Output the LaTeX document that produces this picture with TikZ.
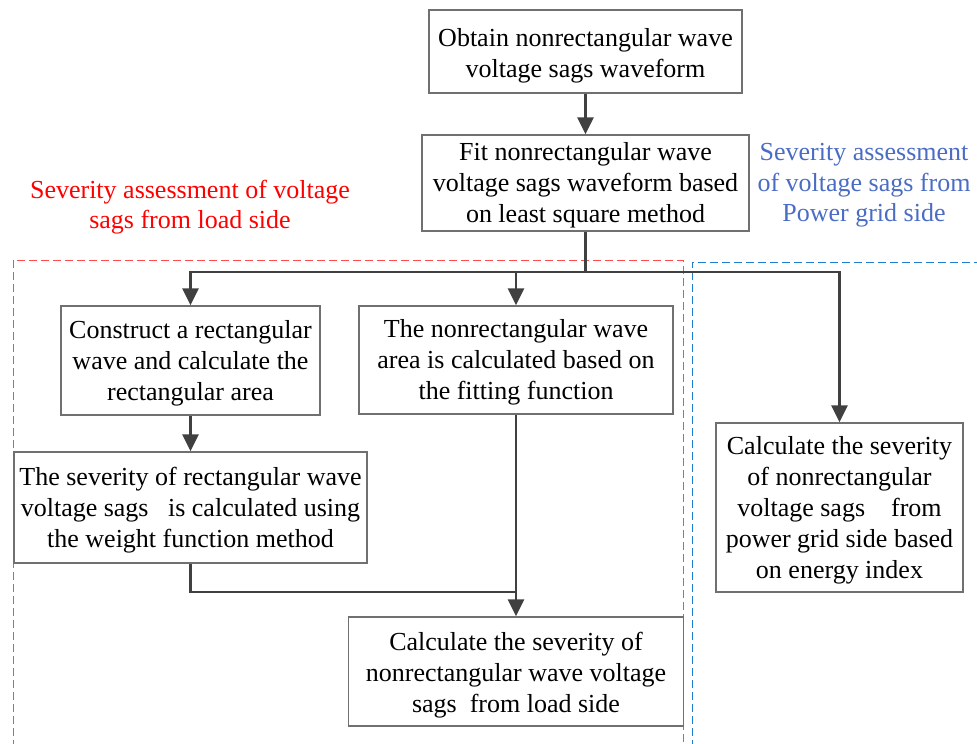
\documentclass[tikz,border=0pt]{standalone}
\usepackage{fontspec}
\setmainfont{Liberation Serif}
\usetikzlibrary{arrows.meta}
\definecolor{boxgray}{HTML}{707070}
\definecolor{flowgray}{HTML}{404040}
\definecolor{dashred}{HTML}{FF4B4B}
\definecolor{dashblue}{HTML}{1E7FD0}
\definecolor{lblblue}{HTML}{4A6CC4}
\begin{document}
\begin{tikzpicture}[x=1pt,y=-1pt,
  frame/.style={draw=boxgray,line width=1.4pt,inner sep=0pt},
  txt/.style={inner sep=0pt,align=center,font=\fontsize{26}{31}\selectfont},
  lbl/.style={inner sep=0pt,align=center,font=\fontsize{26}{30.5}\selectfont},
  wire/.style={draw=flowgray,line width=2.8pt},
  flow/.style={wire,-{Triangle[length=17pt,width=16pt]}},
  reddash/.style={draw=dashred,line width=1pt,dash pattern=on 8pt off 4pt},
  bluedash/.style={draw=dashblue,line width=1pt,dash pattern=on 8pt off 4pt}]
\path[use as bounding box] (0,0) rectangle (977,744);
\begin{scope}
\clip (0,0) rectangle (977,744);
\draw[reddash] (13,760) -- (13,260) -- (683,260) -- (683,760);
\draw[bluedash] (692,760) -- (692,262) -- (990,262);
\end{scope}

\node[frame,minimum width=313pt,minimum height=83pt] (b1) at (585.5,51.5) {};
\node[txt] (t1) at ([yshift=-4pt]b1.center)
  {Obtain nonrectangular wave\\voltage sags waveform};
\node[frame,minimum width=327pt,minimum height=96pt] (b2) at (585.5,183) {};
\node[txt] (t2) at ([yshift=-2.5pt]b2.center)
  {Fit nonrectangular wave\\voltage sags waveform based\\on least square method};
\node[frame,minimum width=259pt,minimum height=109pt] (b3) at (190.5,360.5) {};
\node[txt] (t3) at ([yshift=-2.5pt]b3.center)
  {Construct a rectangular\\wave and calculate the\\rectangular area};
\node[frame,minimum width=314pt,minimum height=108pt] (b4) at (516,360) {};
\node[txt] (t4) at ([yshift=-2.5pt]b4.center)
  {The nonrectangular wave\\area is calculated based on\\the fitting function};
\node[frame,minimum width=353pt,minimum height=111pt] (b5) at (190.5,507.5) {};
\node[txt] (t5) at ([yshift=-3pt]b5.center)
  {The severity of rectangular wave\\voltage sags \ \ is calculated using\\the weight function method};
\node[frame,minimum width=247pt,minimum height=169pt] (b6) at (839.5,507.5) {};
\node[txt] (t6) at ([yshift=-3pt]b6.center)
  {Calculate the severity\\of nonrectangular\\voltage sags \ \ \ from\\power grid side based\\on energy index};
\node[frame,minimum width=335pt,minimum height=109pt] (b7) at (516,671.5) {};
\node[txt] (t7) at ([yshift=-3.5pt]b7.center)
  {Calculate the severity of\\nonrectangular wave voltage\\sags \ from load side};

\node[lbl,text=red] (lred) at (190,207)
  {Severity assessment of voltage\\sags from load side};
\node[lbl,text=lblblue] (lblue) at (864,185.5)
  {Severity assessment\\of voltage sags from\\Power grid side};

\coordinate (j) at (585.5,272);
\coordinate (m) at (516,592);

\draw[flow] (b1) -- (b2);
\draw[wire] (b2.south) -- (j);
\draw[flow] (j) -| (b3.north);
\draw[flow] (j) -| (b6.north);
\draw[flow] (b4.north |- j) -- (b4.north);
\draw[flow] (b3) -- (b5);
\draw[wire] (b5.south) |- (m);
\draw[flow] (b4.south) -- (b7.north);
\end{tikzpicture}
\end{document}
